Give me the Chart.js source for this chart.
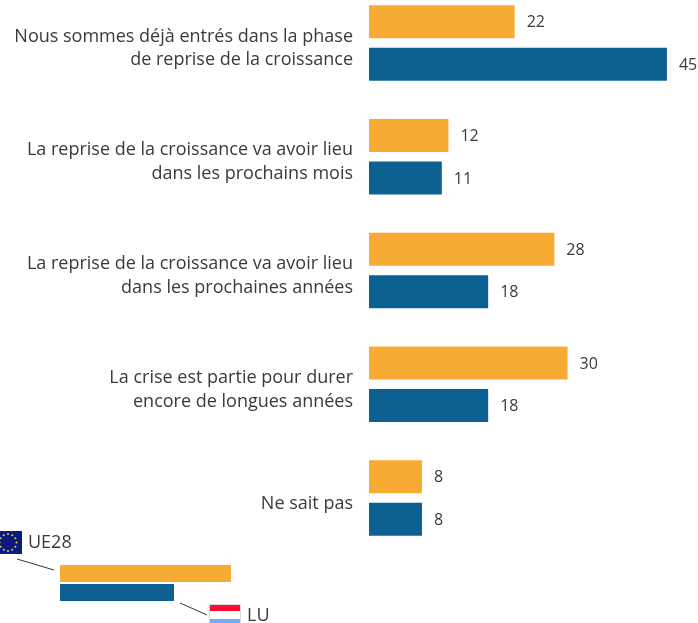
<!DOCTYPE html>
<html>
<head>
<meta charset="utf-8">
<style>
    html, body { margin: 0; padding: 0; background: #fff; overflow: hidden; }
    #wrap { position: relative; width: 698px; height: 623px; overflow: hidden; }
    #chart { position: absolute; left: 0; top: -14px; }
</style>
<script src="https://cdn.jsdelivr.net/npm/chart.js@4"></script>
</head>
<body>
<div id="wrap"><canvas id="chart" width="698" height="640"></canvas></div>
<script>
const categories = [
    ['Nous sommes déjà entrés dans la phase', 'de reprise de la croissance'],
    ['La reprise de la croissance va avoir lieu', 'dans les prochains mois'],
    ['La reprise de la croissance va avoir lieu', 'dans les prochaines années'],
    ['La crise est partie pour durer', 'encore de longues années'],
    ['Ne sait pas']
];
const ue28Values = [22, 12, 28, 30, 8];
const luValues = [45, 11, 18, 18, 8];
const ue28Color = '#F7AB35';
const luColor = '#0B6292';
const textColor = '#3a3a3c';
const fontName = '"Open Sans", sans-serif';

// value labels at the end of each bar
const valueLabels = {
    id: 'valueLabels',
    afterDatasetsDraw(chart) {
        const ctx = chart.ctx;
        ctx.save();
        ctx.font = '16px ' + fontName;
        ctx.fillStyle = textColor;
        ctx.textAlign = 'left';
        ctx.textBaseline = 'middle';
        chart.data.datasets.forEach((ds, i) => {
            chart.getDatasetMeta(i).data.forEach((bar, j) => {
                ctx.fillText(ds.data[j], bar.x + 12, bar.y + 1);
            });
        });
        ctx.restore();
    }
};

// legend in the bottom left corner, with the two flags
const flagLegend = {
    id: 'flagLegend',
    afterDraw(chart) {
        const ctx = chart.ctx;
        ctx.save();
        ctx.translate(0, 14);

        ctx.fillStyle = ue28Color;
        ctx.fillRect(60, 565, 171, 17);
        ctx.fillStyle = luColor;
        ctx.fillRect(60, 584, 114, 17);

        ctx.strokeStyle = '#333';
        ctx.lineWidth = 1;
        ctx.beginPath();
        ctx.moveTo(17, 559);
        ctx.lineTo(54, 570);
        ctx.moveTo(180, 603);
        ctx.lineTo(207, 615);
        ctx.stroke();

        // EU flag
        ctx.fillStyle = '#0b1a80';
        ctx.fillRect(0, 531, 22, 23);
        ctx.fillStyle = '#e8d32a';
        for (let i = 0; i < 12; i++) {
            const a = i * Math.PI / 6;
            ctx.beginPath();
            ctx.arc(8 + 8.5 * Math.cos(a), 542.5 + 8.5 * Math.sin(a), 1, 0, Math.PI * 2);
            ctx.fill();
        }

        // LU flag
        ctx.fillStyle = '#d9d9e0';
        ctx.fillRect(209, 604, 32, 19);
        ctx.fillStyle = '#ff0a32';
        ctx.fillRect(210, 605, 30, 6);
        ctx.fillStyle = '#fff';
        ctx.fillRect(210, 611, 30, 8);
        ctx.fillStyle = '#73a9ff';
        ctx.fillRect(210, 619, 30, 4);

        ctx.fillStyle = textColor;
        ctx.font = '18px ' + fontName;
        ctx.textAlign = 'left';
        ctx.textBaseline = 'middle';
        ctx.fillText('UE28', 28, 543);
        ctx.fillText('LU', 247, 616);
        ctx.restore();
    }
};

new Chart(document.getElementById('chart'), {
    type: 'bar',
    data: {
        labels: categories,
        datasets: [
            { label: 'UE28', data: ue28Values, backgroundColor: ue28Color },
            { label: 'LU', data: luValues, backgroundColor: luColor }
        ]
    },
    options: {
        indexAxis: 'y',
        responsive: false,
        animation: false,
        devicePixelRatio: 1,
        categoryPercentage: 0.747,
        barPercentage: 0.776,
        layout: { padding: { top: 0, right: 4.6, bottom: 71, left: 0 } },
        plugins: { legend: { display: false }, tooltip: { enabled: false } },
        scales: {
            x: { display: false, min: 0, max: 49 },
            y: {
                afterFit(scale) {
                    scale.width = 369;
                    // the tall first label would otherwise push the plot down
                    scale.paddingTop = 0;
                    scale.paddingBottom = 0;
                },
                grid: { display: false, drawTicks: false },
                border: { display: false },
                ticks: {
                    color: textColor,
                    padding: 16,
                    labelOffset: 5.5,
                    font: { family: fontName, size: 18, lineHeight: 1.33 }
                }
            }
        }
    },
    plugins: [valueLabels, flagLegend]
});
</script>
</body>
</html>
